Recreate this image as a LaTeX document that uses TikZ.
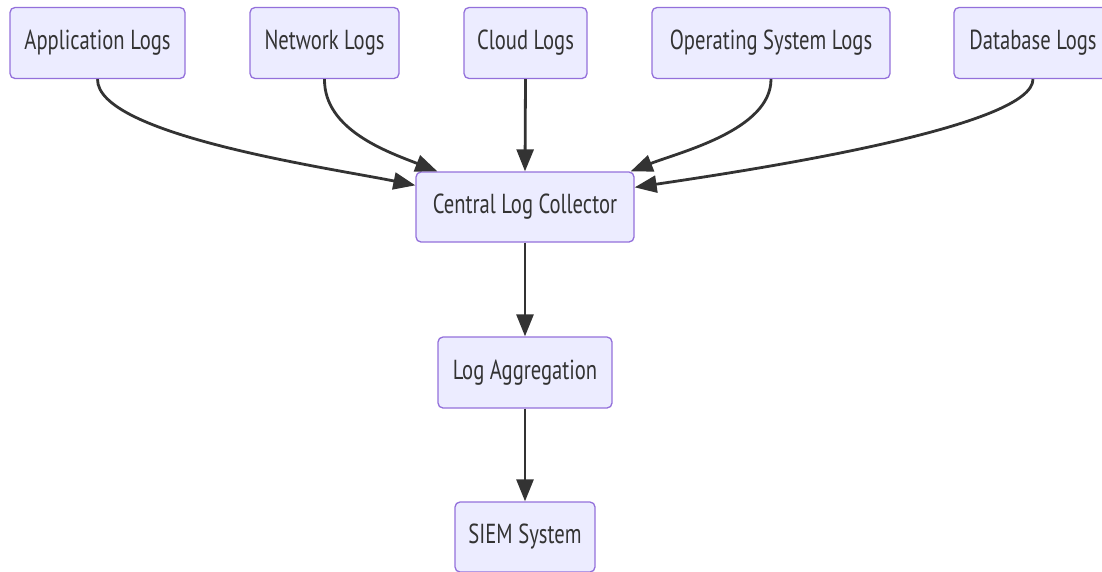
\documentclass[tikz,border=0pt]{standalone}
\usepackage{fontspec}
\setmainfont[FakeStretch=0.75]{PT Sans}
\usetikzlibrary{arrows.meta}
\definecolor{boxfill}{HTML}{ECECFF}
\definecolor{boxline}{HTML}{9370DB}
\definecolor{ink}{HTML}{333333}
\tikzset{
  box/.style={draw=boxline, fill=boxfill, line width=1.3pt, rounded corners=5pt,
    minimum height=71pt, inner sep=0pt, text=ink, font=\fontsize{27.5}{32}\selectfont},
  conn/.style={draw=ink, line width=2.8pt, -{Triangle[length=22pt,width=17pt]}}
}
\begin{document}
\begin{tikzpicture}[x=1pt,y=-1pt]
\useasboundingbox (0,0) rectangle (1102,571);
\node[box, minimum width=175pt] (app) at (97.5,43) {Application Logs};
\node[box, minimum width=149pt] (net) at (324.5,43) {Network Logs};
\node[box, minimum width=123pt] (cloud) at (525.5,43) {Cloud Logs};
\node[box, minimum width=238pt] (os) at (771,43) {Operating System Logs};
\node[box, minimum width=158pt] (db) at (1033,43) {Database Logs};
\node[box, minimum width=218pt, minimum height=70pt] (clc) at (525,207) {Central Log Collector};
\node[box, minimum width=174pt] (agg) at (525,372.5) {Log Aggregation};
\node[box, minimum width=140pt, minimum height=70pt] (siem) at (525,537) {SIEM System};

\coordinate (t1) at ([yshift=-14pt]clc.north west);
\coordinate (t2) at ([xshift=22pt]clc.north west);
\coordinate (t4) at ([xshift=-4pt]clc.north east);
\coordinate (t5) at ([yshift=-16pt]clc.north east);

\draw[conn] (app.south) .. controls (97,135) and (330,168) .. (t1);
\draw[conn] (net.south) .. controls (324,130) and (388,152) .. (t2);
\draw[conn] (cloud.south) -- (clc.north);
\draw[conn] (os.south) .. controls (771,130) and (680,152) .. (t4);
\draw[conn] (db.south) .. controls (1033,125) and (780,166) .. (t5);
\draw[conn] (clc.south) -- (agg.north);
\draw[conn] (agg.south) -- (siem.north);
\end{tikzpicture}
\end{document}
